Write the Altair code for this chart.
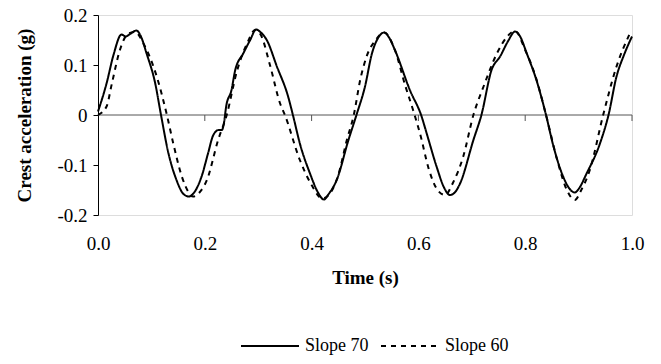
import altair as alt
import pandas as pd

# Slope 70 (solid)
t70 = [0.000, 0.016, 0.029, 0.044, 0.052, 0.060, 0.072, 0.080, 0.091, 0.107, 0.118, 0.132, 0.147,
       0.160, 0.170, 0.180, 0.194, 0.206, 0.216, 0.226, 0.232, 0.236, 0.240, 0.250, 0.257, 0.272,
       0.285, 0.296, 0.305, 0.316, 0.335, 0.356, 0.365, 0.378, 0.397, 0.412, 0.423, 0.432, 0.447,
       0.469, 0.484, 0.500, 0.513, 0.525, 0.536, 0.545, 0.556, 0.584, 0.606, 0.615, 0.634, 0.648,
       0.659, 0.668, 0.678, 0.703, 0.718, 0.737, 0.753, 0.768, 0.781, 0.790, 0.803, 0.821, 0.839,
       0.853, 0.871, 0.885, 0.893, 0.900, 0.915, 0.940, 0.956, 0.971, 0.985, 1.000]
y70 = [0.007, 0.063, 0.120, 0.161, 0.157, 0.162, 0.169, 0.158, 0.123, 0.064, 0.000, -0.077, -0.130,
       -0.158, -0.163, -0.155, -0.123, -0.077, -0.040, -0.030, -0.030, -0.015, 0.017, 0.050, 0.090, 0.123,
       0.150, 0.171, 0.165, 0.150, 0.097, 0.037, 0.000, -0.057, -0.117, -0.155, -0.169, -0.158, -0.130,
       -0.050, 0.000, 0.057, 0.123, 0.155, 0.165, 0.155, 0.130, 0.050, -0.003, -0.035, -0.103, -0.145,
       -0.160, -0.155, -0.137, -0.050, 0.000, 0.090, 0.117, 0.148, 0.167, 0.158, 0.123, 0.070, 0.000,
       -0.063, -0.123, -0.150, -0.155, -0.148, -0.117, -0.057, 0.000, 0.077, 0.120, 0.157]

# Slope 60 (dashed)
t60 = [0.000, 0.016, 0.026, 0.041, 0.057, 0.070, 0.085, 0.110, 0.129, 0.141, 0.157, 0.170, 0.178,
       0.190, 0.204, 0.225, 0.241, 0.260, 0.280, 0.294, 0.305, 0.322, 0.341, 0.350, 0.378, 0.400,
       0.420, 0.432, 0.450, 0.466, 0.479, 0.491, 0.503, 0.520, 0.536, 0.556, 0.575, 0.590, 0.603,
       0.620, 0.634, 0.650, 0.665, 0.684, 0.703, 0.722, 0.747, 0.765, 0.781, 0.800, 0.820, 0.839,
       0.860, 0.878, 0.893, 0.905, 0.921, 0.946, 0.971, 0.996]
y60 = [0.000, 0.017, 0.063, 0.130, 0.163, 0.166, 0.143, 0.077, 0.000, -0.057, -0.123, -0.155, -0.163,
       -0.155, -0.130, -0.050, 0.000, 0.087, 0.145, 0.170, 0.160, 0.100, 0.023, 0.000, -0.090, -0.140,
       -0.167, -0.160, -0.120, -0.050, 0.000, 0.070, 0.117, 0.150, 0.165, 0.130, 0.060, 0.010, -0.037,
       -0.110, -0.147, -0.160, -0.135, -0.083, 0.000, 0.057, 0.123, 0.155, 0.168, 0.130, 0.075, 0.000,
       -0.090, -0.150, -0.170, -0.150, -0.110, 0.000, 0.097, 0.163]

series_names = ["Slope 70", "Slope 60"]
x_ticks = [0.0, 0.2, 0.4, 0.6, 0.8, 1.0]
y_ticks = [-0.2, -0.1, 0.0, 0.1, 0.2]
zero_tick_positions = [0.2, 0.4, 0.6, 0.8, 1.0]

rows = []
for i, (t, y) in enumerate(zip(t70, y70)):
    rows.append({"t": t, "a": y, "s": series_names[0], "o": i})
for i, (t, y) in enumerate(zip(t60, y60)):
    rows.append({"t": t, "a": y, "s": series_names[1], "o": i})
df = pd.DataFrame(rows)

FONT = "Liberation Serif, Times New Roman, serif"
FS = 19

xscale = alt.Scale(domain=[0, 1], nice=False, zero=False)
yscale = alt.Scale(domain=[-0.2, 0.2], nice=False)

lines = alt.Chart(df).mark_line(color="black", strokeWidth=2, interpolate="monotone").encode(
    x=alt.X("t:Q", scale=xscale,
            axis=alt.Axis(values=x_ticks, format=".1f", title="Time (s)", domain=False, ticks=False,
                          grid=False, labelPadding=19, labelFlush=False, labelFont=FONT,
                          labelFontSize=FS, labelColor="black", titleFont=FONT, titleFontSize=FS,
                          titleFontWeight="bold", titleColor="black", titleY=62,
                          titleBaseline="middle")),
    y=alt.Y("a:Q", scale=yscale,
            axis=alt.Axis(values=y_ticks, title="Crest acceleration (g)", grid=False,
                          labelExpr="datum.value == 0 ? '0' : (datum.value < 0 ? '-' + format(-datum.value, '.1f') : format(datum.value, '.1f'))",
                          domainColor="black", tickColor="black", tickSize=5, labelPadding=6,
                          labelFlush=False, labelFont=FONT, labelFontSize=FS, labelColor="black",
                          titleFont=FONT, titleFontSize=FS, titleFontWeight="bold", titleColor="black",
                          titleX=-74, titleY=100, titleAngle=-90, titleAlign="center",
                          titleBaseline="middle")),
    strokeDash=alt.StrokeDash("s:N", scale=alt.Scale(domain=series_names, range=[[1, 0], [5, 5]]),
                              legend=alt.Legend(title=None, orient="none", direction="horizontal",
                                                legendX=142, legendY=301, symbolType="stroke",
                                                symbolSize=3364, symbolStrokeWidth=2,
                                                symbolStrokeColor="black", labelFont=FONT,
                                                labelFontSize=18, labelColor="black",
                                                labelOffset=5, columnPadding=8)),
    order="o:Q",
)

zero_df = pd.DataFrame({"z": [0.0]})
zero_line = alt.Chart(zero_df).mark_rule(color="#555555", strokeWidth=1).encode(y=alt.Y("z:Q", scale=yscale))

tick_df = pd.DataFrame({"t": zero_tick_positions, "y0": [0.0] * len(zero_tick_positions),
                        "y1": [-0.012] * len(zero_tick_positions)})
zero_ticks = alt.Chart(tick_df).mark_rule(color="#555555", strokeWidth=1).encode(
    x=alt.X("t:Q", scale=xscale), y=alt.Y("y0:Q", scale=yscale), y2="y1:Q")

chart = alt.layer(zero_line, zero_ticks, lines).properties(
    width=534, height=200,
    autosize=alt.AutoSizeParams(type="none"),
    padding={"left": 98, "top": 15, "right": 29, "bottom": 149},
).configure_view(stroke=None).configure(background="white")

chart.save("out.html", embed_options={"renderer": "svg", "actions": False})
